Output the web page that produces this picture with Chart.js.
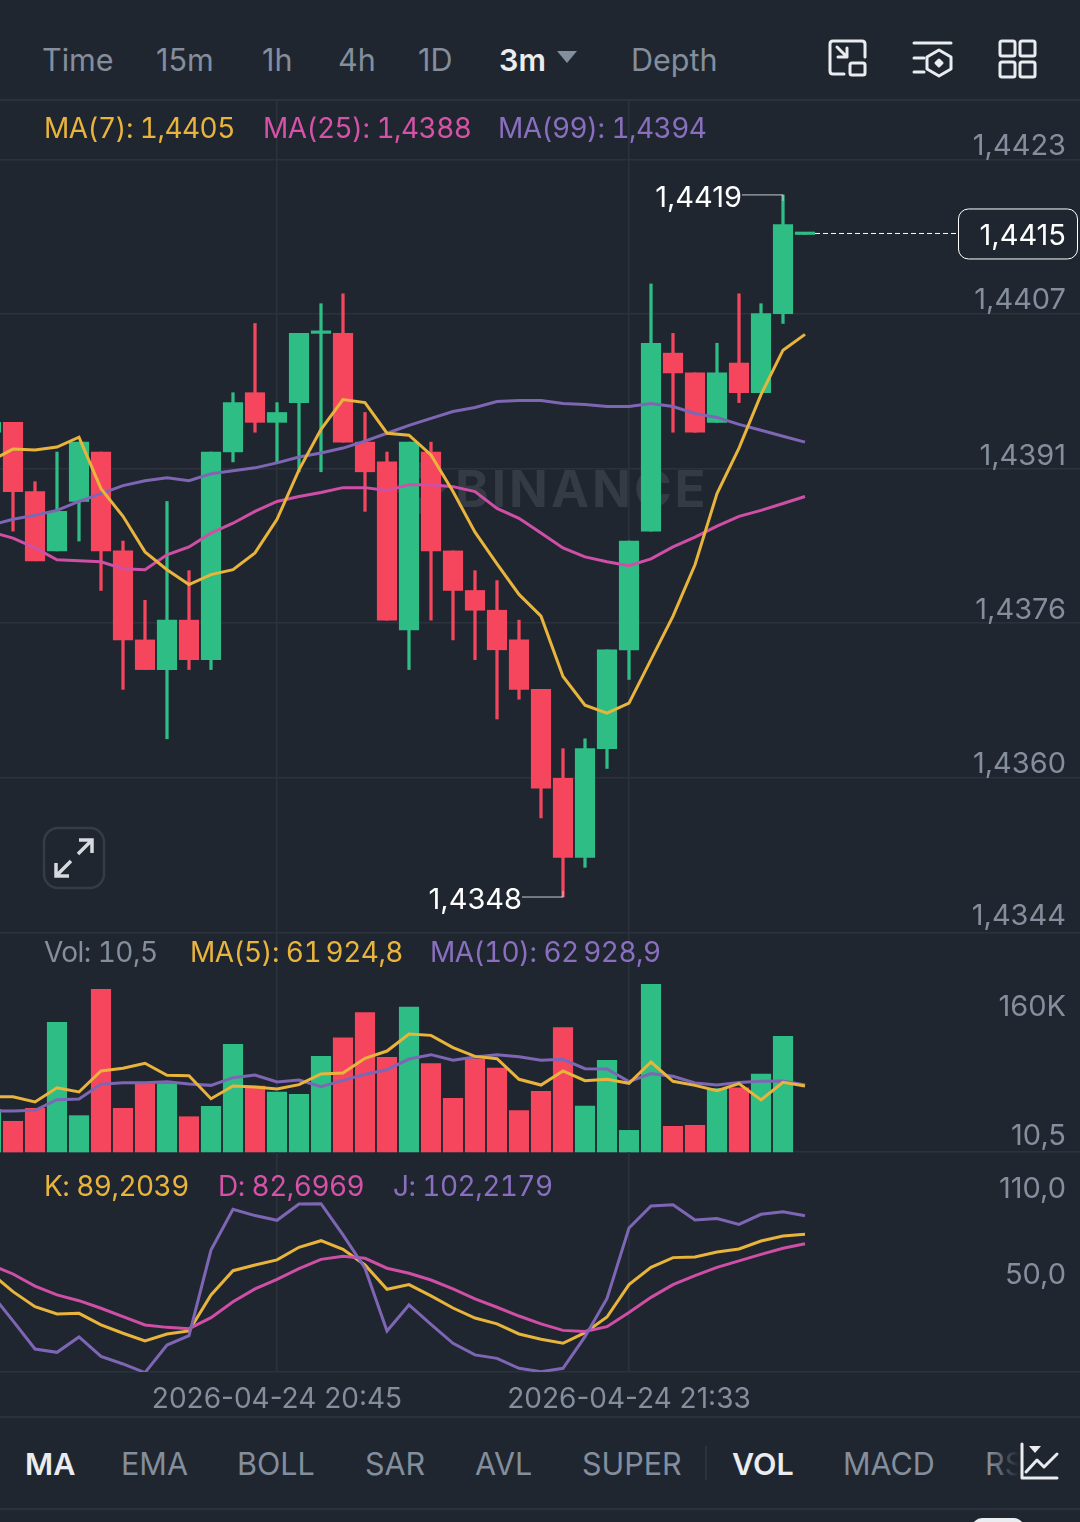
<!DOCTYPE html>
<html>
<head>
<meta charset="utf-8">
<script src="https://cdn.jsdelivr.net/npm/chart.js@4"></script>
<style>
html, body { margin: 0; padding: 0; background: #1f2630; }
#page { position: relative; width: 1080px; height: 1522px; overflow: hidden; background: #1f2630; font-family: Inter, sans-serif; }
canvas { position: absolute; left: 0; }
.t { position: absolute; white-space: nowrap; transform: translateY(-50%); font-size: 30.5px; color: #848e9c; }
.n { font-size: 28px; letter-spacing: -0.55px; font-variant-numeric: tabular-nums; }
.w { color: #eaecef; font-weight: 600; }
.yel { color: #e9b43c; } .pnk { color: #d652a8; } .pur { color: #8a6fc0; }
.line { position: absolute; left: 0; width: 1080px; height: 2px; background: #2b323c; }
.mark { position: absolute; left: 455px; top: 488px; transform: translateY(-50%); font-size: 51px; font-weight: 700; letter-spacing: 3px; color: #343b45; }
svg { position: absolute; }
</style>
</head>
<body>
<div id="page">
	<div class="t" style="left:42px;top:59px">Time</div>
	<div class="t" style="left:156px;top:59px">15m</div>
	<div class="t" style="left:262px;top:59px">1h</div>
	<div class="t" style="left:338px;top:59px">4h</div>
	<div class="t" style="left:418px;top:59px">1D</div>
	<div class="t w" style="left:499px;top:59px">3m</div>
	<div class="t" style="left:631px;top:59px">Depth</div>
	<svg style="left:555px;top:50px" width="24" height="14"><path d="M2 1 H22 L12 13 Z" fill="#848e9c"/></svg>

	<svg style="left:825px;top:36px" width="220" height="44" fill="none" stroke="#eaecef" stroke-width="3" stroke-linecap="round" stroke-linejoin="round">
		<path d="M19 38 H8 Q5 38 5 35 V8 Q5 5 8 5 H37 Q40 5 40 8 V21"/>
		<rect x="25" y="27" width="15" height="12" rx="2"/>
		<path d="M12 11 L22 21 M22 12 V21 H13"/>
		<path d="M89 7 H126 M89 22 H99 M89 36 H99"/>
		<path d="M114 14 L126 21 V33 L114 40 L102 33 V21 Z"/>
		<path d="M114 24 L117 27 L114 30 L111 27 Z" fill="#eaecef"/>
		<rect x="175" y="5" width="15" height="15" rx="2"/>
		<rect x="195" y="5" width="15" height="15" rx="2"/>
		<rect x="175" y="26" width="15" height="15" rx="2"/>
		<rect x="195" y="26" width="15" height="15" rx="2"/>
	</svg>
	<div class="line" style="top:99px"></div>

	<svg style="left:392px;top:460px" width="56" height="56"><path d="M28 2 L54 28 L28 54 L2 28 Z M28 18 L18 28 L28 38 L38 28 Z" fill="#343b45" fill-rule="evenodd"/></svg>
	<div class="mark">BINANCE</div>

	<canvas id="mainChart" style="top:100px" width="1080" height="834"></canvas>
	<canvas id="volChart" style="top:932px" width="1080" height="221"></canvas>
	<canvas id="kdjChart" style="top:1152px" width="1080" height="264"></canvas>

	<div class="t n yel" style="left:44px;top:128px">MA(7): 1,4405</div>
	<div class="t n pnk" style="left:263px;top:128px">MA(25): 1,4388</div>
	<div class="t n pur" style="left:498px;top:128px">MA(99): 1,4394</div>

	<svg style="left:42px;top:826px" width="64" height="64" fill="none">
		<rect x="2" y="2" width="60" height="60" rx="14" stroke="#353c48" stroke-width="2.5"/>
		<path d="M36 28 L50 14 M37 14 H50 V27 M29 35 L14 50 M14 37 V50 H27" stroke="#d6d9dd" stroke-width="3.5"/>
	</svg>

	<div class="t n" style="left:44px;top:952px">Vol: 10,5</div>
	<div class="t n yel" style="left:190px;top:952px">MA(5): 61&#8239;924,8</div>
	<div class="t n pur" style="left:430px;top:952px">MA(10): 62&#8239;928,9</div>

	<div class="t n yel" style="left:44px;top:1186px">K: 89,2039</div>
	<div class="t n pnk" style="left:218px;top:1186px">D: 82,6969</div>
	<div class="t n pur" style="left:393px;top:1186px">J: 102,2179</div>

	<div class="line" style="top:1416px"></div>
	<div class="t w" style="left:25px;top:1463px">MA</div>
	<div class="t" style="left:121px;top:1463px">EMA</div>
	<div class="t" style="left:237px;top:1463px">BOLL</div>
	<div class="t" style="left:365px;top:1463px">SAR</div>
	<div class="t" style="left:475px;top:1463px">AVL</div>
	<div class="t" style="left:582px;top:1463px">SUPER</div>
	<div style="position:absolute;left:705px;top:1446px;width:2px;height:34px;background:#2b323c"></div>
	<div class="t w" style="left:732px;top:1463px">VOL</div>
	<div class="t" style="left:843px;top:1463px">MACD</div>
	<div class="t" style="left:985px;top:1463px">RSI</div>
	<div style="position:absolute;left:990px;top:1440px;width:90px;height:50px;background:linear-gradient(90deg,rgba(31,38,48,0),#1f2630 32%)"></div>
	<svg style="left:1016px;top:1440px" width="50" height="46" fill="none" stroke="#eaecef" stroke-width="3" stroke-linecap="round" stroke-linejoin="round">
		<path d="M6 4 V38 H41"/>
		<path d="M10 32 L21 20 L28 27 L41 14"/>
		<path d="M13 6 H25 L19 13 Z" fill="#eaecef" stroke="none"/>
	</svg>
	<div class="line" style="top:1508px"></div>
	<div style="position:absolute;left:972px;top:1518px;width:52px;height:20px;border-radius:10px;background:#eaecef"></div>
</div>

<script>
// one label per candle, 3m apart
const times = ["20:06","20:09","20:12","20:15","20:18","20:21","20:24","20:27","20:30","20:33","20:36","20:39","20:42","20:45","20:48","20:51","20:54","20:57","21:00","21:03","21:06","21:09","21:12","21:15","21:18","21:21","21:24","21:27","21:30","21:33","21:36","21:39","21:42","21:45","21:48","21:51","21:54","21:57"];

const opens = [1.4395,1.4396,1.4389,1.4383,1.4388,1.4393,1.4383,1.4374,1.4371,1.4376,1.4372,1.4393,1.4399,1.4396,1.4398,1.4405,1.4405,1.4394,1.4392,1.4375,1.4393,1.4383,1.4379,1.4377,1.4374,1.4369,1.4360,1.4352,1.4363,1.4373,1.4385,1.4403,1.4401,1.4396,1.4402,1.4399,1.4407,1.4415];
const highs = [1.4396,1.4396,1.4390,1.4393,1.4394,1.4393,1.4384,1.4378,1.4388,1.4381,1.4393,1.4399,1.4406,1.4398,1.4405,1.4408,1.4409,1.4397,1.4393,1.4394,1.4394,1.4383,1.4381,1.4380,1.4376,1.4369,1.4363,1.4364,1.4373,1.4384,1.4410,1.4405,1.4401,1.4404,1.4409,1.4408,1.4419,1.4415];
const lows = [1.4395,1.4385,1.4382,1.4383,1.4384,1.4379,1.4369,1.4371,1.4364,1.4371,1.4371,1.4392,1.4395,1.4392,1.4391,1.4391,1.4394,1.4387,1.4376,1.4371,1.4376,1.4374,1.4372,1.4366,1.4368,1.4356,1.4348,1.4351,1.4361,1.4370,1.4385,1.4395,1.4395,1.4396,1.4398,1.4399,1.4406,1.4415];
const closes = [1.4396,1.4389,1.4382,1.4387,1.4394,1.4383,1.4374,1.4371,1.4376,1.4372,1.4393,1.4398,1.4396,1.4397,1.4405,1.4405,1.4394,1.4391,1.4376,1.4394,1.4383,1.4379,1.4377,1.4373,1.4369,1.4359,1.4352,1.4363,1.4373,1.4384,1.4404,1.4401,1.4395,1.4401,1.4399,1.4407,1.4416,1.4415];

const ma7 = [1.43921,1.43933,1.43932,1.43935,1.43945,1.43893,1.43865,1.43829,1.43811,1.43796,1.43806,1.43811,1.43828,1.43862,1.43912,1.43953,1.43983,1.43980,1.43949,1.43947,1.43927,1.43890,1.43849,1.43817,1.43786,1.43764,1.43703,1.43674,1.43666,1.43676,1.43720,1.43764,1.43816,1.43888,1.43934,1.43988,1.44033,1.44049];
const ma25 = [1.43849,1.43843,1.43833,1.43821,1.43820,1.43819,1.43812,1.43811,1.43826,1.43834,1.43848,1.43858,1.43870,1.43880,1.43885,1.43889,1.43894,1.43894,1.43891,1.43897,1.43897,1.43895,1.43890,1.43873,1.43863,1.43848,1.43833,1.43824,1.43819,1.43815,1.43822,1.43834,1.43844,1.43855,1.43865,1.43871,1.43878,1.43885];
const ma99 = [1.43856,1.43862,1.43866,1.43871,1.43880,1.43888,1.43896,1.43901,1.43904,1.43901,1.43908,1.43911,1.43914,1.43919,1.43925,1.43929,1.43934,1.43941,1.43949,1.43957,1.43964,1.43971,1.43975,1.43981,1.43982,1.43982,1.43979,1.43978,1.43976,1.43976,1.43979,1.43976,1.43969,1.43965,1.43958,1.43952,1.43946,1.43940];

const volumes = [40000,28800,41000,121600,34100,152600,41000,64100,64100,33100,42800,101000,61900,56300,54100,89700,107200,130700,88800,136000,82900,50300,87500,78800,38800,56900,116600,43100,86000,20300,157300,24100,25000,59400,60300,73200,108500,10.5];
const volMa5 = [51600,51900,46900,60300,56300,76000,78500,83200,71900,71600,50000,61900,61000,59100,63200,73200,74100,87900,94700,110700,109400,97900,89700,87500,68200,62800,76000,66900,68200,64400,84400,66300,62500,57500,64100,48800,65300,61924.8];
const volMa10 = [38500,38500,39100,49100,49700,63500,65000,65000,66000,63800,62500,69700,72200,65700,67500,61300,67200,72900,77200,87200,91300,86000,89100,91300,89400,86000,86900,78200,77900,66000,73500,71000,64700,62800,65300,66300,66600,62928.9];

const kLine = [62.1,49.3,38.8,33.7,34.2,26.1,20.3,14.9,19.8,21.9,47.0,63.9,67.9,71.4,80.2,84.8,78.8,67.9,50.9,54.2,46.3,37.9,30.9,26.8,19.8,16.1,13.3,20.7,31.6,54.2,66.2,73.0,73.4,76.9,79.0,84.6,88.1,89.2039];
const dLine = [67.9,61.6,53.2,47.0,43.0,37.7,31.9,26.1,24.4,23.5,31.2,42.3,51.2,57.9,65.3,71.8,73.9,72.5,65.6,62.1,57.4,51.2,44.2,38.4,32.3,26.8,22.3,21.6,24.9,34.7,45.3,54.2,60.4,66.2,70.7,75.3,79.5,82.6969];
const jLine = [48.1,28.9,9.3,7.0,17.7,4.2,-1.1,-7.1,12.1,18.6,78.3,106.7,102.3,99.0,110.4,110.6,88.8,65.6,21.9,40.0,26.5,13.3,5.2,2.8,-4.1,-6.5,-4.1,17.9,44.6,93.6,109.0,109.9,99.2,100.2,96.2,103.2,105.0,102.2179];

const priceTicks = [1.44226,1.44070,1.43913,1.43757,1.43601,1.43444];
const volTicks = [160000,10.5];
const kdjTicks = [110,50];
const timeTicks = ["20:45","21:33"];

const GREEN = "#2ebd85", RED = "#f6465d", YELLOW = "#e9b43c", PINK = "#cf4fa6", PURPLE = "#7f66b5";
const GRID = "#2b323c", GRAY = "#848e9c", BG = "#1f2630";
const FONT = "Inter, sans-serif";
const labelSize = 29;

const candleColors = closes.map((c, i) => c >= opens[i] ? GREEN : RED);
const pts = vals => vals.map((v, i) => ({ x: i, y: v }));
const priceText = v => v.toFixed(4).replace(".", ",");
const lineSet = (vals, color) => ({ type: "line", data: pts(vals), borderColor: color, borderWidth: 3, pointRadius: 0, tension: 0, order: 0 });

const xScale = (labels) => ({
	type: "linear",
	min: 9 / 22,
	max: 49.5,
	offset: false,
	border: { display: false },
	grid: { color: GRID, lineWidth: 1.5, drawTicks: false, tickLength: 0, offset: false },
	ticks: { display: labels, autoSkip: false, maxRotation: 0, color: GRAY, padding: 11,
		font: { family: FONT, size: 28 },
		callback: v => "2026-04-24 " + times[v] },
	afterBuildTicks: s => { s.ticks = timeTicks.map(t => ({ value: times.indexOf(t) })); }
});

const yScale = (min, max, tickVals, label) => ({
	type: "linear",
	position: "right",
	min: min,
	max: max,
	border: { display: false },
	grid: { color: GRID, lineWidth: 1.5, drawTicks: false, tickLength: 0 },
	ticks: { mirror: true, padding: -14, autoSkip: false, color: GRAY, callback: label,
		font: { family: FONT, size: labelSize, lineHeight: "31px" } },
	afterBuildTicks: s => { s.ticks = tickVals.map(v => ({ value: v })); },
	// the two line labels would otherwise eat into the plot height
	afterFit: s => { s.paddingTop = 0; s.paddingBottom = 0; }
});

const baseOptions = (scales) => ({
	responsive: false,
	animation: false,
	devicePixelRatio: 1,
	events: [],
	layout: { padding: 0 },
	plugins: { legend: { display: false }, tooltip: { enabled: false } },
	scales: scales
});

// high / low callouts and the last price tag
const priceMarks = {
	id: "priceMarks",
	afterDatasetsDraw(chart) {
		const { ctx, scales: { x, y } } = chart;
		const hi = Math.max(...highs), lo = Math.min(...lows);
		const callout = (value, idx, dy) => {
			const px = x.getPixelForValue(idx), py = y.getPixelForValue(value);
			ctx.strokeStyle = "#c9ccd1";
			ctx.lineWidth = 1;
			ctx.beginPath();
			ctx.moveTo(px - 41, py);
			ctx.lineTo(px, py);
			ctx.lineTo(px, py + dy);
			ctx.stroke();
			ctx.fillStyle = "#ffffff";
			ctx.font = labelSize + "px " + FONT;
			ctx.textAlign = "right";
			ctx.textBaseline = "middle";
			ctx.fillText(priceText(value), px - 41, py + 3);
		};
		ctx.save();
		callout(hi, highs.indexOf(hi), 6);
		callout(lo, lows.indexOf(lo), -6);

		const last = closes[closes.length - 1], ly = y.getPixelForValue(last) - 1;
		ctx.strokeStyle = "#ffffff";
		ctx.lineWidth = 1;
		ctx.setLineDash([5, 3]);
		ctx.beginPath();
		ctx.moveTo(815, ly);
		ctx.lineTo(958, ly);
		ctx.stroke();
		ctx.setLineDash([]);
		ctx.fillStyle = BG;
		ctx.beginPath();
		ctx.roundRect(958.5, ly - 24.5, 119, 50, 10);
		ctx.fill();
		ctx.stroke();
		ctx.fillStyle = "#ffffff";
		ctx.fillText(priceText(last), 1066, ly + 3);
		ctx.restore();
	}
};

const mainY = yScale(1.434426, 1.44286, priceTicks, v => [priceText(v), ""]);
mainY.ticks.font = c => ({ family: FONT, size: labelSize, lineHeight: c.index === 5 ? "33px" : "26px" });

new Chart(document.getElementById("mainChart"), {
	type: "bar",
	data: {
		datasets: [
			lineSet(ma7, YELLOW),
			lineSet(ma25, PINK),
			lineSet(ma99, PURPLE),
			{ data: opens.map((o, i) => ({ x: i, y: [o, closes[i]] })), backgroundColor: candleColors, barThickness: 19.5, minBarLength: 2.5, grouped: false, order: 1 },
			{ data: lows.map((l, i) => ({ x: i, y: [l, highs[i]] })), backgroundColor: candleColors, barThickness: 2.6, grouped: false, order: 2 }
		]
	},
	options: baseOptions({ x: xScale(false), y: mainY }),
	plugins: [priceMarks]
});

new Chart(document.getElementById("volChart"), {
	type: "bar",
	data: {
		datasets: [
			lineSet(volMa5, YELLOW),
			lineSet(volMa10, PURPLE),
			// the running candle has almost no volume yet, no visible bar
			{ data: pts(volumes), backgroundColor: candleColors.map((c, i) => volumes[i] < 100 ? "transparent" : c), barThickness: 19.5, grouped: false, order: 1 }
		]
	},
	options: (() => {
		const o = baseOptions({
			x: xScale(false),
			y: yScale(-938, 206360, volTicks, v => v > 1000 ? ["", (v / 1000) + "K"] : [String(v).replace(".", ","), ""])
		});
		o.scales.y.grid.color = c => c.tick && c.tick.value > 1000 ? "transparent" : GRID;
		o.scales.y.ticks.font = c => ({ family: FONT, size: labelSize, lineHeight: c.index === 0 ? "51px" : "32px" });
		return o;
	})()
});

new Chart(document.getElementById("kdjChart"), {
	type: "line",
	data: {
		datasets: [lineSet(jLine, PURPLE), lineSet(dLine, PINK), lineSet(kLine, YELLOW)]
	},
	options: (() => {
		const o = baseOptions({
			x: xScale(true),
			y: yScale(-6.7, 146.6, kdjTicks, v => [v.toFixed(1).replace(".", ","), ""])
		});
		o.scales.y.grid.color = "transparent";
		o.scales.x.border = { display: true, color: GRID, width: 1.5 };
		o.scales.x.afterFit = s => { s.height = 44; };
		return o;
	})()
});
</script>
</body>
</html>
